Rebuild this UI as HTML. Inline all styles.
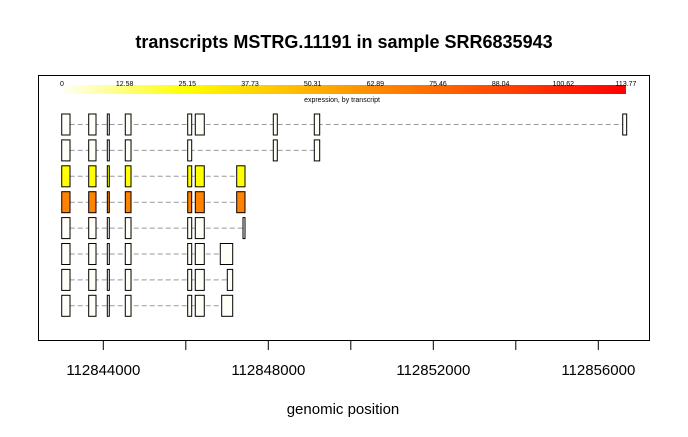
<!DOCTYPE html>
<html><head><meta charset="utf-8"><style>
body{margin:0;background:#fff;}
svg{display:block;font-family:"Liberation Sans",Arial,sans-serif;}
</style></head><body>
<svg id="c" width="688" height="437">
<defs><linearGradient id="heat" x1="0" x2="1" y1="0" y2="0">
<stop offset="0" stop-color="#fffff6"/><stop offset="0.22" stop-color="#ffff00"/><stop offset="0.55" stop-color="#ff8c00"/><stop offset="1" stop-color="#ff0000"/></linearGradient></defs>
<text x="344" y="48" text-anchor="middle" font-size="18" font-weight="bold">transcripts MSTRG.11191 in sample SRR6835943</text>
<rect x="38.5" y="75.5" width="611" height="265" fill="none" stroke="#000"/>
<rect x="62" y="85" width="564" height="9" fill="url(#heat)"/>
<text x="342" y="102" text-anchor="middle" font-size="7">expression, by transcript</text>
<g id="scale"></g><g id="rows"></g><g id="axis"></g>
<text x="343" y="414" text-anchor="middle" font-size="15">genomic position</text>
</svg>
<script>
const scaleLabels=["0","12.58","25.15","37.73","50.31","62.89","75.46","88.04","100.62","113.77"];
const xTicks=[112844000,112846000,112848000,112850000,112852000,112854000,112856000];
const xTickLabels={112844000:"112844000",112848000:"112848000",112852000:"112852000",112856000:"112856000"};
const expression=[0,0,25,62,0,0,0,0];
const exonStarts=[
[112842992,112843646,112844097,112844533,112846046,112846230,112848121,112849115,112856592],
[112842992,112843646,112844097,112844533,112846046,112848121,112849115],
[112842992,112843646,112844097,112844533,112846046,112846230,112847234],
[112842992,112843646,112844097,112844533,112846046,112846230,112847234],
[112842992,112843646,112844097,112844533,112846046,112846230,112847387],
[112842992,112843646,112844097,112844533,112846046,112846230,112846836],
[112842992,112843646,112844097,112844533,112846046,112846230,112847006],
[112842992,112843646,112844097,112844533,112846046,112846230,112846870]];
const exonEnds=[
[112843193,112843823,112844145,112844672,112846143,112846448,112848218,112849246,112856688],
[112843193,112843823,112844145,112844672,112846143,112848218,112849246],
[112843193,112843823,112844145,112844672,112846143,112846448,112847435],
[112843193,112843823,112844145,112844672,112846143,112846448,112847435],
[112843193,112843823,112844145,112844672,112846143,112846448,112847435],
[112843193,112843823,112844145,112844672,112846143,112846448,112847137],
[112843193,112843823,112844145,112844672,112846143,112846448,112847137],
[112843193,112843823,112844145,112844672,112846143,112846448,112847137]];
const NS="http://www.w3.org/2000/svg";
const X=p=>103.3+(p-112844000)*0.04125;
const rowY=i=>114+i*25.9;
function heat(v){const t=v/113.77;
 const stops=[[0,[255,255,248]],[0.22,[255,255,0]],[0.55,[255,128,0]],[1,[255,0,0]]];
 for(let k=1;k<stops.length;k++){if(t<=stops[k][0]){const a=stops[k-1],b=stops[k];const f=(t-a[0])/(b[0]-a[0]);
 return "rgb("+a[1].map((c,j)=>Math.round(c+(b[1][j]-c)*f)).join(",")+")";}}return "rgb(255,0,0)";}
function mk(tag,attrs,parent){const e=document.createElementNS(NS,tag);for(const k in attrs)e.setAttribute(k,attrs[k]);parent.appendChild(e);return e;}
const sg=document.getElementById('scale');
scaleLabels.forEach((l,i)=>{const t=mk('text',{x:62+i*(564/(scaleLabels.length-1)),y:86,'text-anchor':'middle','font-size':'7'},sg);

t.textContent=l;});
const rg=document.getElementById('rows');
exonStarts.forEach((starts,i)=>{const ends=exonEnds[i];const y=rowY(i);const g=mk('g',{},rg);


 const ln=mk('line',{x1:X(starts[0]),x2:X(ends[ends.length-1]),y1:y+10.5,y2:y+10.5,stroke:'#999','stroke-dasharray':'5,3'},g);
 
 
 starts.forEach((s,j)=>{const r=mk('rect',{x:X(s),y:y,width:Math.max(X(ends[j])-X(s),2),height:21,fill:heat(expression[i]),stroke:'#000','stroke-width':1},g);
 
 });});
const ag=document.getElementById('axis');
xTicks.forEach(p=>{const l=mk('line',{x1:X(p),x2:X(p),y1:340,y2:350,stroke:'#000'},ag);


 if(xTickLabels[p]){const t=mk('text',{x:X(p),y:375,'text-anchor':'middle','font-size':'15'},ag);
 
 t.textContent=xTickLabels[p];}});
</script>
</body></html>
